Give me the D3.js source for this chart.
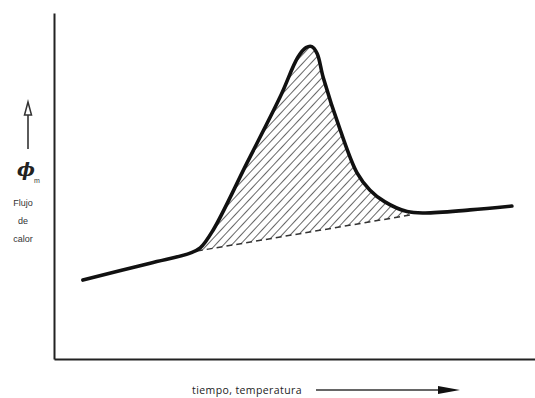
<!DOCTYPE html>
<html>
<head>
<meta charset="utf-8">
<script src="https://cdn.jsdelivr.net/npm/d3@7"></script>
<style>
  body { margin: 0; background: #fff; }
  svg { display: block; }
</style>
</head>
<body>
<svg id="chart" width="535" height="398"></svg>
<script>
// curva DSC (unidades relativas 0-100)
const tiempo = [6.0, 20.0, 28.3, 30.4, 33.1, 40.1, 47.0, 50.7, 52.4, 53.6, 54.7, 56.0, 59.5, 63.0, 65.7, 68.8, 73.4, 77.1, 86.5, 95.2];
const flujo  = [22.8, 27.7, 30.6, 32.1, 37.3, 56.6, 75.7, 87.2, 90.0, 90.3, 88.3, 81.2, 66.2, 53.8, 48.8, 45.4, 42.6, 42.2, 43.1, 44.2];
// linea base discontinua: inicio y fin del pico
const baseX = [29.7, 74.0];
const baseY = [31.2, 41.6];
const xLabel = "tiempo, temperatura";
const yLabel = ["Flujo", "de", "calor"];

const svg = d3.select("#chart");
const x = d3.scaleLinear().domain([0, 100]).range([54, 535]);
const y = d3.scaleLinear().domain([0, 100]).range([359, 13]);

const curve = tiempo.map((t, i) => ({ t, f: flujo[i] }));
const baseAt = t => baseY[0] + (baseY[1] - baseY[0]) * (t - baseX[0]) / (baseX[1] - baseX[0]);

// patron rayado
const defs = svg.append("defs");
defs.append("pattern")
    .attr("id", "rayas")
    .attr("patternUnits", "userSpaceOnUse")
    .attr("width", 6).attr("height", 6)
    .attr("patternTransform", "rotate(43)")
  .append("line")
    .attr("x1", 0).attr("y1", 0).attr("x2", 0).attr("y2", 6)
    .attr("stroke", "#333").attr("stroke-width", 1.5);

// area rayada entre curva y linea base
const pico = [{ t: baseX[0], f: baseY[0] }]
    .concat(curve.filter(d => d.t > baseX[0] + 0.5 && d.t < baseX[1] - 0.5))
    .concat([{ t: baseX[1], f: baseY[1] }]);
svg.append("path")
    .datum(pico)
    .attr("fill", "url(#rayas)")
    .attr("d", d3.area()
        .x(d => x(d.t))
        .y0(d => y(baseAt(d.t)))
        .y1(d => y(d.f))
        .curve(d3.curveCatmullRom.alpha(0.5)));

// linea base discontinua
svg.append("line")
    .attr("x1", x(baseX[0])).attr("y1", y(baseY[0]))
    .attr("x2", x(baseX[1])).attr("y2", y(baseY[1]))
    .attr("stroke", "#333").attr("stroke-width", 1.5)
    .attr("stroke-dasharray", "6,4");

// ejes sin marcas
svg.append("g").attr("transform", `translate(0,${y(0)})`)
    .call(d3.axisBottom(x).ticks(0).tickSizeOuter(0))
    .select(".domain").attr("stroke", "#222").attr("stroke-width", 2);
svg.append("g").attr("transform", `translate(${x(0)},0)`)
    .call(d3.axisLeft(y).ticks(0).tickSizeOuter(0))
    .select(".domain").attr("stroke", "#222").attr("stroke-width", 2);

// curva principal
svg.append("path")
    .datum(curve)
    .attr("fill", "none")
    .attr("stroke", "#111")
    .attr("stroke-width", 3.6)
    .attr("stroke-linecap", "round")
    .attr("stroke-linejoin", "round")
    .attr("d", d3.line()
        .x(d => x(d.t))
        .y(d => y(d.f))
        .curve(d3.curveCatmullRom.alpha(0.5)));

// etiqueta eje Y: flecha hueca, phi y texto
const yl = svg.append("g");
yl.append("line")
    .attr("x1", 28).attr("y1", 115).attr("x2", 28).attr("y2", 149)
    .attr("stroke", "#333").attr("stroke-width", 1.6);
yl.append("path")
    .attr("d", "M28,102 L31.5,115 L24.5,115 Z")
    .attr("fill", "#fff").attr("stroke", "#333").attr("stroke-width", 1.5);
yl.append("text")
    .attr("x", 26).attr("y", 176)
    .attr("text-anchor", "middle")
    .attr("font-family", "DejaVu Serif")
    .attr("font-style", "italic").attr("font-weight", "bold")
    .attr("font-size", 19).attr("fill", "#222")
    .text("ϕ");
yl.append("text")
    .attr("x", 34).attr("y", 183)
    .attr("font-family", "Liberation Sans")
    .attr("font-size", 7).attr("fill", "#333")
    .text("m");
yl.selectAll("text.lbl").data(yLabel).join("text")
    .attr("class", "lbl")
    .attr("x", 23).attr("y", (d, i) => 206 + i * 18)
    .attr("text-anchor", "middle")
    .attr("font-family", "Liberation Sans")
    .attr("font-size", 9).attr("fill", "#333")
    .text(d => d);

// etiqueta eje X con flecha
svg.append("text")
    .attr("x", 247).attr("y", 394)
    .attr("text-anchor", "middle")
    .attr("font-family", "Open Sans")
    .attr("font-size", 10.5).attr("letter-spacing", 0.4)
    .attr("fill", "#222")
    .text(xLabel);
svg.append("line")
    .attr("x1", 316).attr("y1", 390).attr("x2", 442).attr("y2", 390)
    .attr("stroke", "#333").attr("stroke-width", 1.3);
svg.append("path")
    .attr("d", "M438,386 L460,390 L438,394 Z")
    .attr("fill", "#111");
</script>
</body>
</html>
